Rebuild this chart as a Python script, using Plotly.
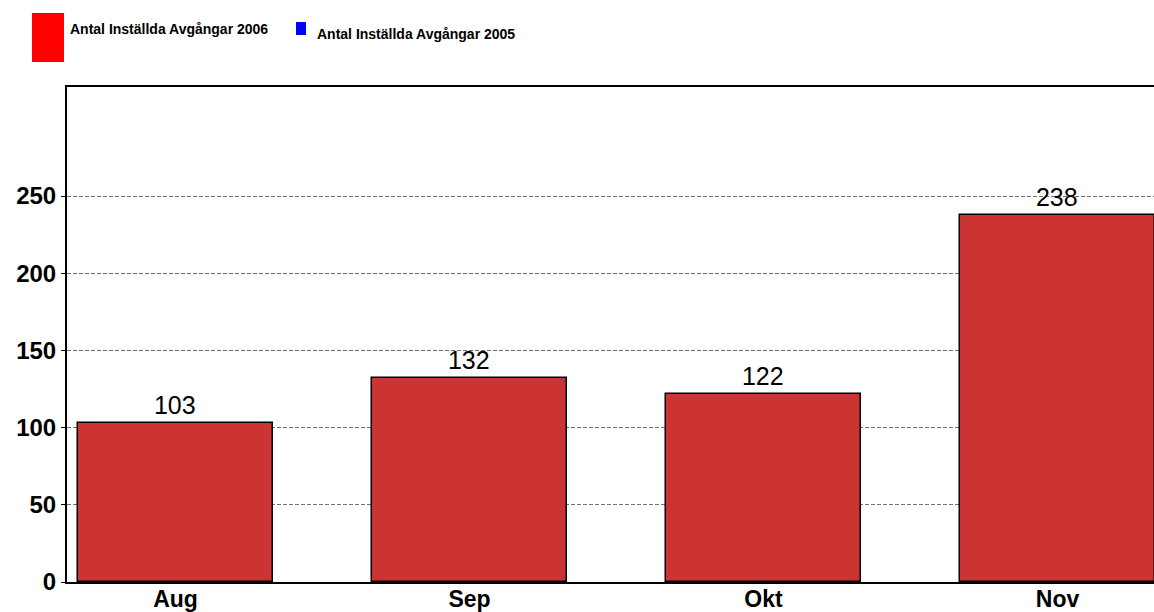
import plotly.graph_objects as go

months = ["Aug", "Sep", "Okt", "Nov"]
cancelled_2006 = [103, 132, 122, 238]
series_2006 = "Antal Inställda Avgångar 2006"
series_2005 = "Antal Inställda Avgångar 2005"
y_ticks = [0, 50, 100, 150, 200, 250]

FONT = "Liberation Sans, Arial, sans-serif"
W, H = 1154, 612
L, T, B = 67, 87, 30
PW, PH = W - L, H - T - B


def px(x):
    return (x - L) / PW


def py(y):
    return (H - B - y) / PH


fig = go.Figure()
fig.add_trace(go.Bar(
    x=months, y=cancelled_2006, name=series_2006,
    marker=dict(color="#CC3333", line=dict(color="#000000", width=1.5)),
    width=0.663,
    text=[str(v) for v in cancelled_2006], textposition="outside",
    textfont=dict(family=FONT, size=25, color="#000000"),
    cliponaxis=False, showlegend=False,
))

fig.update_layout(
    width=W, height=H,
    margin=dict(l=L, r=0, t=T, b=B, pad=0, autoexpand=False),
    paper_bgcolor="white", plot_bgcolor="white",
    font=dict(family=FONT, color="#000000"),
    showlegend=False,
    bargap=0,
)
fig.update_xaxes(
    type="category", range=[-0.369, 3.328], automargin=False,
    showline=True, linecolor="#000000", linewidth=2, mirror=True,
    ticks="", showgrid=False, ticklabelstandoff=-5,
    tickfont=dict(family=FONT, size=23, color="#000000", weight="bold"),
)
fig.update_yaxes(
    range=[0, 320.6], tickvals=y_ticks, ticktext=[str(v) for v in y_ticks],
    automargin=False,
    showline=True, linecolor="#000000", linewidth=2, mirror=False,
    ticks="outside", ticklen=4, tickcolor="#000000",
    showgrid=True, gridcolor="#707070", griddash="4px,2px", gridwidth=1,
    zeroline=False,
    tickfont=dict(family=FONT, size=24, color="#000000", weight="bold"),
)

# Legend drawn manually
fig.add_shape(type="rect", xref="paper", yref="paper",
              x0=px(32), x1=px(64), y0=py(62), y1=py(13),
              fillcolor="#FF0000", line=dict(width=0))
fig.add_shape(type="rect", xref="paper", yref="paper",
              x0=px(296), x1=px(306), y0=py(35), y1=py(22),
              fillcolor="#0000FF", line=dict(width=0))
fig.add_annotation(xref="paper", yref="paper", x=px(68), y=py(29),
                   text=f"<b>{series_2006}</b>", showarrow=False,
                   xanchor="left", yanchor="middle",
                   font=dict(family=FONT, size=14, color="#000000"))
fig.add_annotation(xref="paper", yref="paper", x=px(315), y=py(34),
                   text=f"<b>{series_2005}</b>", showarrow=False,
                   xanchor="left", yanchor="middle",
                   font=dict(family=FONT, size=14, color="#000000"))

fig.write_html(
    "out.html",
    config={"displayModeBar": False},
    post_script="document.body.style.margin='0';document.body.style.overflow='hidden';",
)
